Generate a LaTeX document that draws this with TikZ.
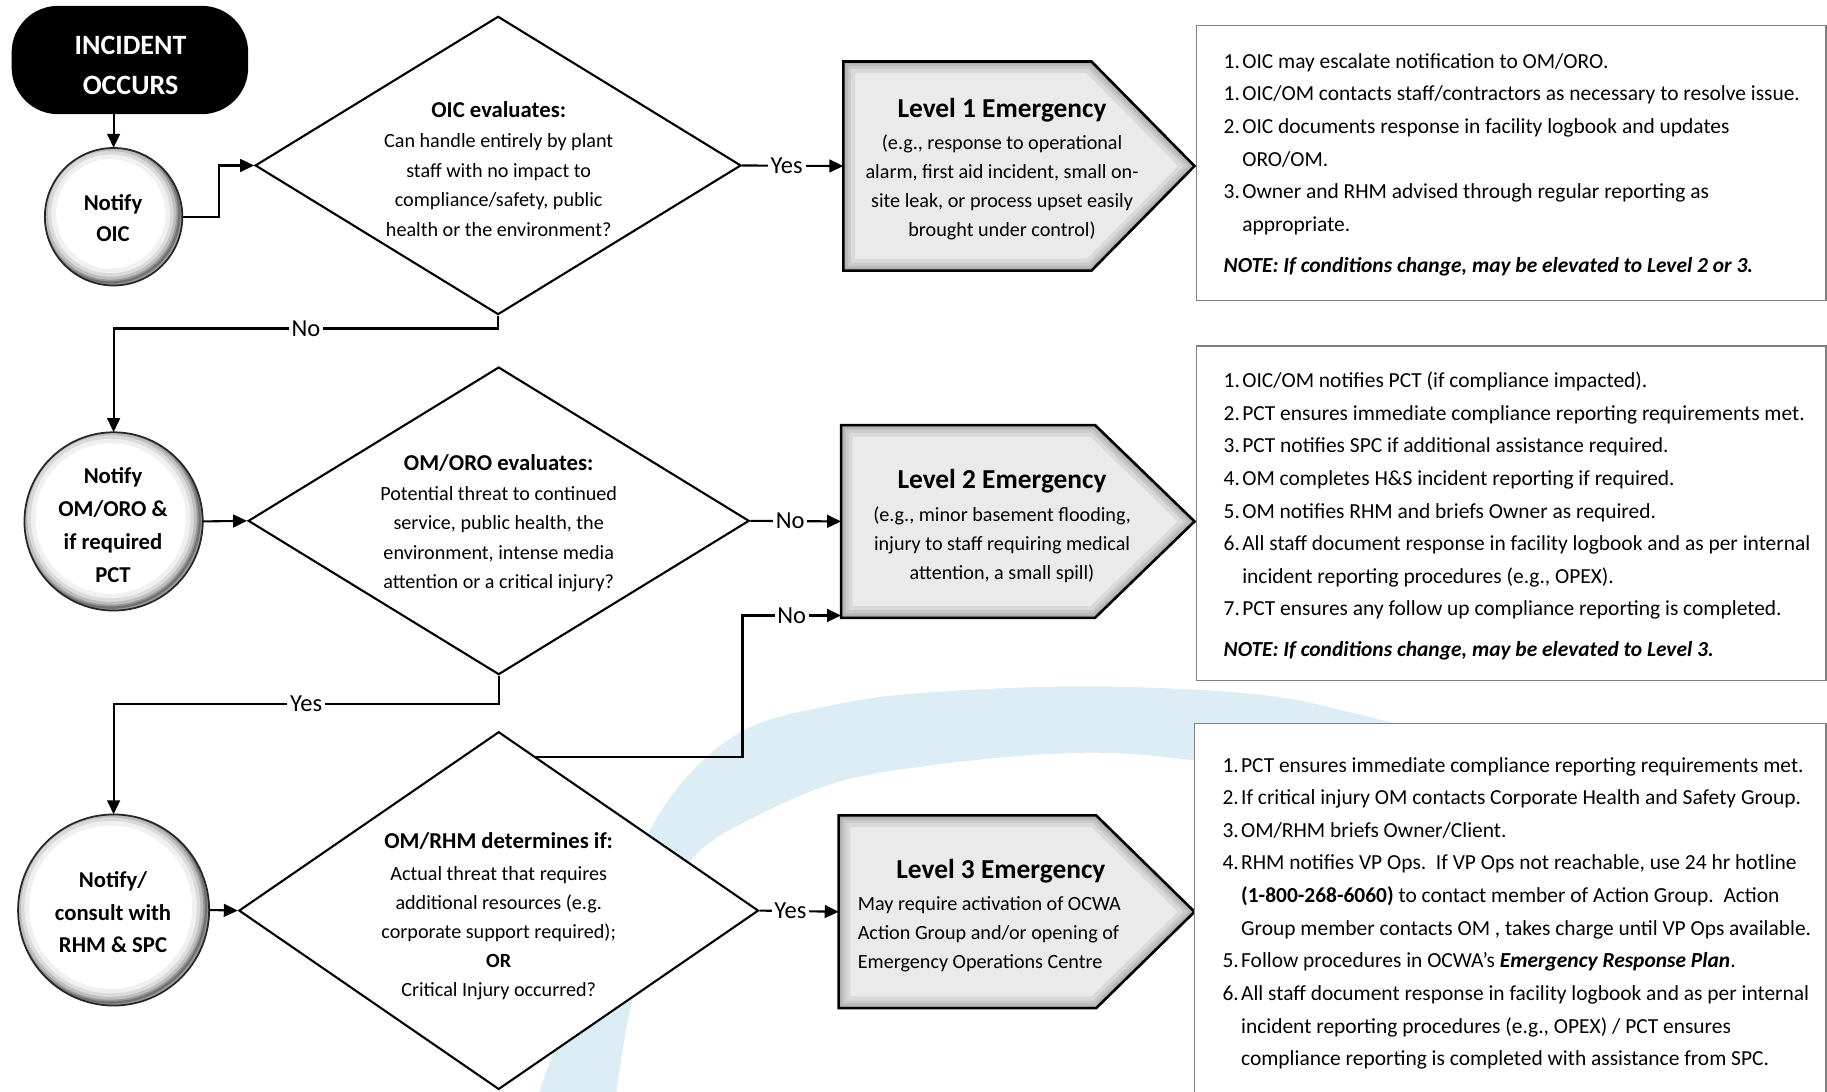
\documentclass[tikz,border=0pt]{standalone}
\usepackage{fontspec}
\setmainfont{Carlito}
\usetikzlibrary{shapes.geometric,arrows.meta,calc}
\definecolor{bandblue}{RGB}{221,237,246}
\definecolor{levgray}{RGB}{234,234,234}
\definecolor{boxgray}{RGB}{128,128,128}
\newcommand\ritem[2]{\makebox[16pt][l]{#1.}#2}
\newcommand\rcont[1]{\hspace*{16pt}#1}
\newcommand\rimshadow[2]{%
  \begin{scope}
    \clip (#1.center) circle (#2);
    \foreach \w/\o in {24/0.06,16/0.09,10/0.13,5/0.2,2/0.25}{\draw[line width=\w pt, black, opacity=\o] ([shift={(-2.5,-2.5)}]#1.center) circle (#2);}
  \end{scope}
  \draw[line width=1.5pt, black!85] (#1.center) circle (#2);}
\begin{document}
\begin{tikzpicture}[x=1pt,y=-1pt,
  incbox/.style={rectangle, fill=black, rounded corners=40pt, minimum width=203pt, minimum height=93pt, inner sep=0pt},
  dia/.style={diamond, draw=black, line width=1.8pt, fill=white, inner sep=0pt},
  circ/.style={circle, fill=white, inner sep=0pt},
  levbox/.style={rectangle, draw=none, inner sep=0pt},
  rbox/.style={rectangle, draw=boxgray, line width=1.3pt, fill=white, inner sep=0pt},
  arr/.style={line width=1.8pt, -{Triangle[length=12pt,width=11pt]}},
  lbl/.style={fill=white, inner sep=2.5pt, font=\fontsize{21}{25}\selectfont},
  dtext/.style={align=center, inner sep=0pt, font=\fontsize{17.3}{25.5}\selectfont},
  ctext/.style={align=center, inner sep=0pt, font=\fontsize{19.5}{27}\selectfont\bfseries},
  rtext/.style={align=left, anchor=north west, inner sep=0pt, font=\fontsize{18.4}{28}\selectfont},
  bevel/.style={line width=#1, black, opacity=0.07}
]
\useasboundingbox (0,0) rectangle (1568,937);

% background swoosh
\fill[bandblue] plot[smooth, tension=0.55] coordinates {(460,945) (505,825) (570,692) (636,628) (720,604) (800,594) (937,589) (1080,596) (1174,615) (1300,650)}
  -- plot[smooth, tension=0.55] coordinates {(1300,712) (1174,672) (1021,652) (937,646) (840,652) (727,669) (650,700) (596,735) (560,800) (540,870) (528,945)} -- cycle;

% start terminator
\node[incbox] (inc) at (111.5,51.5) {};
\node[font=\fontsize{24}{34}\selectfont\bfseries, text=white, align=center, inner sep=0pt] (inct) at (112,57) {\strut INCIDENT\\OCCURS\strut};

% circles
\node[circ, minimum size=118pt] (c1) at (97.5,186) {};
\rimshadow{c1}{59}
\node[ctext] (c1t) at (97,188.5) {\strut Notify\\OIC\strut};
\node[circ, minimum size=153pt] (c2) at (97.5,447.5) {};
\rimshadow{c2}{76.5}
\node[ctext, font=\fontsize{19.5}{28.3}\selectfont\bfseries] (c2t) at (97,452) {\strut Notify\\OM/ORO \&\\if required\\PCT\strut};
\node[circ, minimum size=164pt] (c3) at (97.5,781) {};
\rimshadow{c3}{82}
\node[ctext, font=\fontsize{19.5}{28}\selectfont\bfseries] (c3t) at (97,784) {\strut Notify/\\consult with\\RHM \& SPC\strut};

% diamonds
\node[dia, minimum width=417pt, minimum height=256pt] (d1) at (427.5,142) {};
\node[dia, minimum width=430pt, minimum height=264pt] (d2) at (428,447) {};
\node[dia, minimum width=446pt, minimum height=307pt] (d3) at (428,781.5) {};
\node[dtext] (d1t) at (428,147) {{\fontsize{19.5}{25.5}\selectfont\bfseries\strut OIC evaluates:}\\Can handle entirely by plant\\staff with no impact to\\compliance/safety, public\\health or the environment?\strut};
\node[dtext, font=\fontsize{17.3}{25.25}\selectfont] (d2t) at (428,449.5) {{\fontsize{19.5}{25.25}\selectfont\bfseries\strut OM/ORO evaluates:}\\Potential threat to continued\\service, public health, the\\environment, intense media\\attention or a critical injury?\strut};
\node[dtext, font=\fontsize{17.3}{25}\selectfont] (d3t) at (428,787) {{\fontsize{19.5}{25}\selectfont\bfseries\strut OM/RHM determines if:}\\[2pt]Actual threat that requires\\additional resources (e.g.\\corporate support required);\\\textbf{OR}\\Critical Injury occurred?\strut};

% level boxes
\node[levbox, minimum width=301pt, minimum height=179pt] (L1) at (874.5,142.5) {};
\node[levbox, minimum width=303pt, minimum height=165pt] (L2) at (873.5,447.5) {};
\node[levbox, minimum width=305pt, minimum height=165pt] (L3) at (872.5,782.5) {};
\def\pA{(L1.north west) -- ($(L1.north west)+(213,0)$) -- (L1.east) -- ($(L1.south west)+(213,0)$) -- (L1.south west) -- cycle}
\def\pB{(L2.north west) -- ($(L2.north west)+(218,0)$) -- (L2.east) -- ($(L2.south west)+(218,0)$) -- (L2.south west) -- cycle}
\def\pC{(L3.north west) -- ($(L3.north west)+(221,0)$) -- (L3.east) -- ($(L3.south west)+(221,0)$) -- (L3.south west) -- cycle}
\fill[levgray] \pA;
\begin{scope}\clip \pA; \foreach \w in {20,13,8,4} {\draw[bevel=\w pt] \pA;}\end{scope}
\draw[line width=2.2pt, black] \pA;
\fill[levgray] \pB;
\begin{scope}\clip \pB; \foreach \w in {20,13,8,4} {\draw[bevel=\w pt] \pB;}\end{scope}
\draw[line width=2.2pt, black] \pB;
\fill[levgray] \pC;
\begin{scope}\clip \pC; \foreach \w in {20,13,8,4} {\draw[bevel=\w pt] \pC;}\end{scope}
\draw[line width=2.2pt, black] \pC;

\node[dtext, font=\fontsize{17.3}{25}\selectfont] (L1t) at (860,147) {{\fontsize{23.5}{25}\selectfont\bfseries\strut Level 1 Emergency}\\[2pt](e.g., response to operational\\alarm, first aid incident, small on-\\site leak, or process upset easily\\brought under control)\strut};
\node[dtext, font=\fontsize{17.3}{25}\selectfont] (L2t) at (860,453.5) {{\fontsize{23.5}{25}\selectfont\bfseries\strut Level 2 Emergency}\\[3pt](e.g., minor basement flooding,\\injury to staff requiring medical\\attention, a small spill)\strut};
\node[inner sep=0pt, font=\fontsize{23.5}{25}\selectfont\bfseries] (L3h) at (859,749) {\strut Level 3 Emergency};
\node[dtext, font=\fontsize{17.3}{25}\selectfont, align=left, anchor=west] (L3t) at (736,801) {\strut May require activation of OCWA\\Action Group and/or opening of\\Emergency Operations Centre\strut};

% right boxes
\node[rbox, minimum width=540pt, minimum height=236pt] (R1) at (1297,140) {};
\node[rbox, minimum width=540pt, minimum height=287pt] (R2) at (1297,440.5) {};
\node[rbox, minimum width=542pt, minimum height=339pt] (R3) at (1296,790.5) {};
\node[rtext] (R1t) at (1050,38.8) {\strut\ritem{1}{OIC may escalate notification to OM/ORO.}\\
\ritem{1}{OIC/OM contacts staff/contractors as necessary to resolve issue.}\\
\ritem{2}{OIC documents response in facility logbook and updates}\\
\rcont{ORO/OM.}\\
\ritem{3}{Owner and RHM advised through regular reporting as}\\
\rcont{appropriate.}\\[7pt]
\textbf{\textit{NOTE: If conditions change, may be elevated to Level 2 or 3.}}};
\node[rtext] (R2t) at (1050,312.8) {\strut\ritem{1}{OIC/OM notifies PCT (if compliance impacted).}\\
\ritem{2}{PCT ensures immediate compliance reporting requirements met.}\\
\ritem{3}{PCT notifies SPC if additional assistance required.}\\
\ritem{4}{OM completes H\&S incident reporting if required.}\\
\ritem{5}{OM notifies RHM and briefs Owner as required.}\\
\ritem{6}{All staff document response in facility logbook and as per internal}\\
\rcont{incident reporting procedures (e.g., OPEX).}\\
\ritem{7}{PCT ensures any follow up compliance reporting is completed.}\\[7pt]
\textbf{\textit{NOTE: If conditions change, may be elevated to Level 3.}}};
\node[rtext] (R3t) at (1049,642.8) {\strut\ritem{1}{PCT ensures immediate compliance reporting requirements met.}\\
\ritem{2}{If critical injury OM contacts Corporate Health and Safety Group.}\\
\ritem{3}{OM/RHM briefs Owner/Client.}\\
\ritem{4}{RHM notifies VP Ops.\ \ If VP Ops not reachable, use 24 hr hotline}\\
\rcont{\textbf{(1-800-268-6060)} to contact member of Action Group.\ \ Action}\\
\rcont{Group member contacts OM , takes charge until VP Ops available.}\\
\ritem{5}{Follow procedures in OCWA’s \textbf{\textit{Emergency Response Plan}}.}\\
\ritem{6}{All staff document response in facility logbook and as per internal}\\
\rcont{incident reporting procedures (e.g., OPEX) / PCT ensures}\\
\rcont{compliance reporting is completed with assistance from SPC.}};

% connectors
\draw[arr] (inc.south -| c1.north) -- (c1.north);
\draw[arr] (c1.east) -- ++(31,0) |- (d1.west);
\draw[arr] (d1.east) -- node[lbl,pos=0.44]{Yes} (L1.west);
\draw[arr] (d1.south) -- ++(0,11) coordinate (k1) -- node[lbl]{No} (k1 -| c2.north) -- (c2.north);
\draw[arr] (c2.east) -- (d2.west);
\draw[arr] (d2.east) -- node[lbl,pos=0.44]{No} (L2.west);
\draw[arr] (d2.south) -- ++(0,24) coordinate (k2) -- node[lbl]{Yes} (k2 -| c3.north) -- (c3.north);
\draw[arr] (c3.east) -- (d3.west);
\draw[arr] (d3.east) -- node[lbl,pos=0.39]{Yes} (L3.west);
\coordinate (k3) at ($(d3.north)!0.144!(d3.east)$);
\draw[arr] (k3) -- ++(177,0) |- node[lbl,pos=0.75]{No} ($(L2.south west)+(0,-2)$);
\end{tikzpicture}
\end{document}
